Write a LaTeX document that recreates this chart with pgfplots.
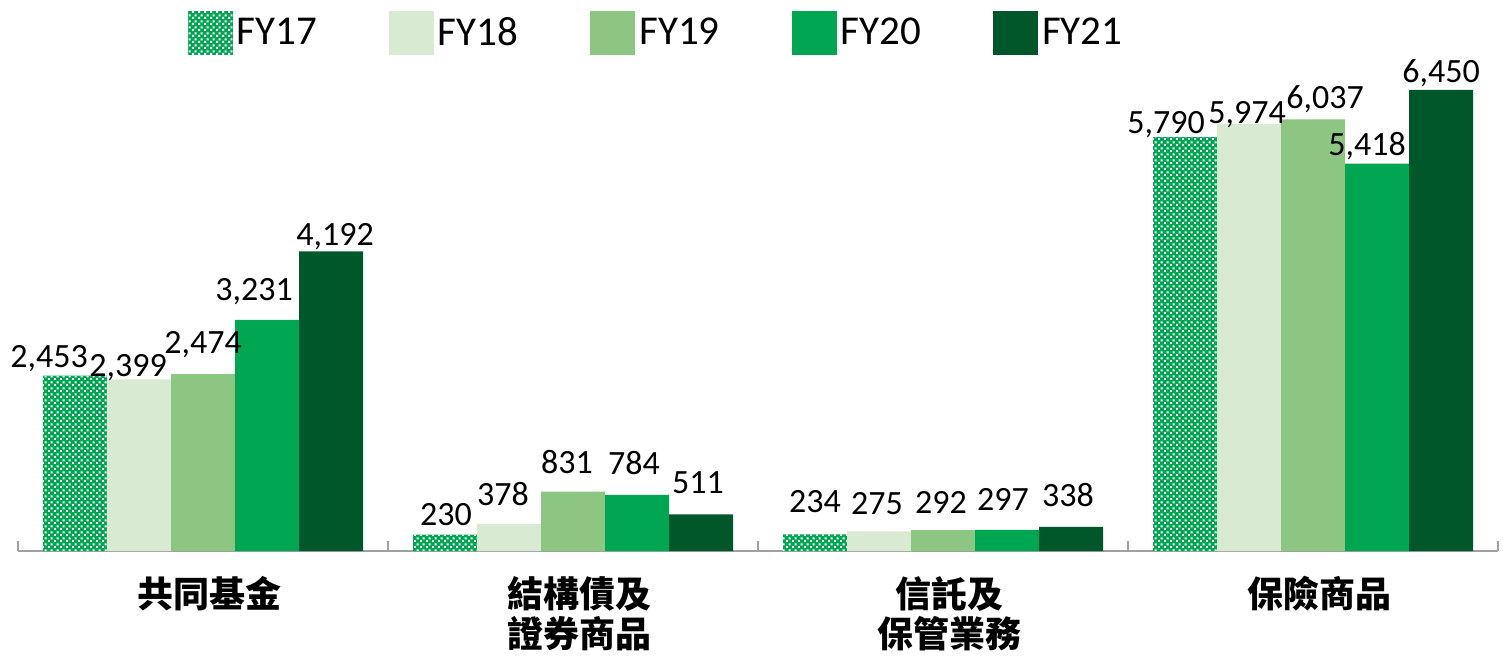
\documentclass[border=0pt]{standalone}
\usepackage{fontspec}
\setmainfont{Carlito}
\newfontfamily\cjk{Noto Sans CJK TC}
\usepackage{pgfplots}
\usepackage{pgfplotstable}
\pgfplotsset{compat=1.18}
\usetikzlibrary{patterns}
\definecolor{cA}{HTML}{00A651}
\definecolor{cB}{HTML}{D9EAD3}
\definecolor{cC}{HTML}{8DC583}
\definecolor{cD}{HTML}{00A651}
\definecolor{cE}{HTML}{00582A}
\definecolor{axgray}{HTML}{A0A0A0}
\pgfdeclarepatternformonly{chk}{\pgfqpoint{0pt}{0pt}}{\pgfqpoint{3pt}{3pt}}{\pgfqpoint{3pt}{3pt}}{%
  \pgfpathrectangle{\pgfqpoint{0pt}{0pt}}{\pgfqpoint{1.15pt}{1.15pt}}%
  \pgfpathrectangle{\pgfqpoint{1.5pt}{1.5pt}}{\pgfqpoint{1.15pt}{1.15pt}}%
  \pgfusepath{fill}}
% x: category, y: value, dx/dy: label offset (pt) of label centre from bar top centre
\pgfplotstableread{
x y dx dy
0 2453 -13 9.5
1 230 0.5 9.75
2 234 0 16.5
3 5790 -9.5 7
}\tA
\pgfplotstableread{
x y dx dy
0 2399 -5.5 7
1 378 -3 14.5
2 275 -1 14
3 5974 -1 5.5
}\tB
\pgfplotstableread{
x y dx dy
0 2474 0 15.5
1 831 -3 14.5
2 292 -1 13.5
3 6037 6 11
}\tC
\pgfplotstableread{
x y dx dy
0 3231 -6.5 15
1 784 -1.5 15.5
2 297 -2 15
3 5418 -5 9.5
}\tD
\pgfplotstableread{
x y dx dy
0 4192 2 8.5
1 511 -1.5 16
2 338 -1.5 15.75
3 6450 0 9
}\tE
\begin{document}
\begin{tikzpicture}
\begin{axis}[
  name=ax,
  scale only axis,
  width=740pt, height=250.25pt,
  ymin=0, ymax=7000,
  xmin=-0.5, xmax=3.5,
  ybar=0pt, bar width=32pt,
  axis x line=bottom, axis y line=none,
  axis line style={-, axgray, line width=1.2pt},
  xtick={0,1,2,3},
  xticklabels={共同基金,{結構債及\\證券商品},{信託及\\保管業務},保險商品},
  major tick length=0pt,
  minor xtick={-0.5,0.5,1.5,2.5,3.5},
  minor tick length=5pt,
  minor tick style={axgray, line width=1.2pt},
  tick align=inside,
  xticklabel style={font=\cjk\bfseries\fontsize{18}{20}\selectfont, align=center, anchor=north, yshift=-9pt, xshift=3pt},
  nodes near coords,
  visualization depends on={\thisrow{dx} \as \ldx},
  visualization depends on={\thisrow{dy}-5.4 \as \ldy},
  every node near coord/.append style={font=\fontsize{17}{20}\selectfont, black, anchor=base,
     xshift=\ldx pt, yshift=\ldy pt},
  /pgf/number format/.cd, 1000 sep={,}, fixed, precision=0, assume math mode=true,
  /pgfplots/.cd,
  legend columns=5,
  legend style={draw=none, fill=none, at={(0.115,1)}, anchor=north west, yshift=22pt, xshift=-3.5pt,
    font=\fontsize{20.5}{24}\selectfont,
    /tikz/every even column/.append style={column sep=34pt}},
  legend image code/.code={\draw[#1,draw=none] (0pt,-11pt) rectangle (22.5pt,11pt);},
]
\addplot[fill=cA, draw=none, postaction={pattern=chk, pattern color=white}] table[x=x,y=y] {\tA};
\addplot[fill=cB, draw=none] table[x=x,y=y] {\tB};
\addplot[fill=cC, draw=none] table[x=x,y=y] {\tC};
\addplot[fill=cD, draw=none] table[x=x,y=y] {\tD};
\addplot[fill=cE, draw=none] table[x=x,y=y] {\tE};
\legend{FY17,FY18,FY19,FY20,FY21}
\end{axis}
\pgfresetboundingbox
\path[use as bounding box] ([xshift=-9pt,yshift=-52pt]ax.south west) rectangle ([xshift=2.5pt,yshift=25.25pt]ax.north east);
\end{tikzpicture}
\end{document}
